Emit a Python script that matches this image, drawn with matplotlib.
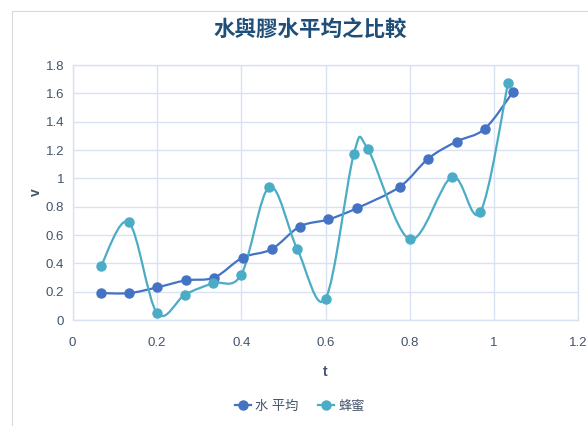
import matplotlib
matplotlib.use("Agg")
import matplotlib.pyplot as plt
from matplotlib.path import Path
from matplotlib.patches import PathPatch, Rectangle
from matplotlib.lines import Line2D
import numpy as np

plt.rcParams['font.family'] = ['Liberation Sans', 'Noto Sans CJK TC', 'DejaVu Sans']

# 水平均
water_t = [0.067, 0.134, 0.200, 0.269, 0.336, 0.403, 0.472, 0.539, 0.607,
           0.675, 0.776, 0.844, 0.911, 0.978, 1.045]
water_v = [0.19, 0.19, 0.23, 0.28, 0.30, 0.44, 0.50, 0.66, 0.71,
           0.79, 0.94, 1.14, 1.26, 1.35, 1.61]

# 蜂蜜
honey_t = [0.067, 0.133, 0.200, 0.267, 0.333, 0.400, 0.467, 0.533, 0.600,
           0.667, 0.700, 0.800, 0.900, 0.967, 1.033]
honey_v = [0.38, 0.69, 0.05, 0.18, 0.26, 0.32, 0.94, 0.50, 0.15,
           1.17, 1.21, 0.57, 1.01, 0.76, 1.67]

x_ticks = [0, 0.2, 0.4, 0.6, 0.8, 1, 1.2]
y_ticks = [0, 0.2, 0.4, 0.6, 0.8, 1, 1.2, 1.4, 1.6, 1.8]
x_labels = ['0', '0.2', '0.4', '0.6', '0.8', '1', '1.2']
y_labels = ['0', '0.2', '0.4', '0.6', '0.8', '1', '1.2', '1.4', '1.6', '1.8']

BLUE = '#4472C4'
TEAL = '#4BACC6'
GRID = '#D9E2F3'
TXT = '#44546A'


def smooth_path(xs, ys):
    # Excel-style smoothed line: Catmull-Rom segments as cubic Bezier
    pts = np.column_stack([xs, ys])
    n = len(pts)
    verts = [pts[0]]
    codes = [Path.MOVETO]
    for i in range(n - 1):
        p0 = pts[max(i - 1, 0)]
        p1 = pts[i]
        p2 = pts[i + 1]
        p3 = pts[min(i + 2, n - 1)]
        c1 = p1 + (p2 - p0) / 6
        c2 = p2 - (p3 - p1) / 6
        verts += [c1, c2, p2]
        codes += [Path.CURVE4] * 3
    return Path(verts, codes)


fig = plt.figure(figsize=(5.88, 4.26), dpi=100)
fig.patches.append(Rectangle((12 / 588, -0.1), 1.2, 1.1 - 11 / 426,
                             transform=fig.transFigure, fill=False,
                             edgecolor='#D9D9D9', linewidth=0.8))

ax = fig.add_axes([0.1236, 0.2488, 0.86, 0.5986])

for xs, ys, col in [(water_t, water_v, BLUE), (honey_t, honey_v, TEAL)]:
    ax.add_patch(PathPatch(smooth_path(xs, ys), facecolor='none',
                           edgecolor=col, linewidth=1.6, zorder=3))
    ax.plot(xs, ys, linestyle='none', marker='o', markersize=6.5,
            color=col, zorder=4)

ax.set_xlim(0, 1.2)
ax.set_ylim(0, 1.8)
ax.set_xticks(x_ticks)
ax.set_xticklabels(x_labels)
ax.set_yticks(y_ticks)
ax.set_yticklabels(y_labels)
ax.tick_params(axis='x', length=0, labelsize=9.5, labelcolor=TXT, pad=12)
ax.tick_params(axis='y', length=0, labelsize=9.5, labelcolor=TXT, pad=6)
ax.grid(True, color=GRID, linewidth=1)
ax.set_axisbelow(True)
for s in ax.spines.values():
    s.set_color(GRID)
    s.set_linewidth(1)

ax.set_xlabel('t', fontsize=10, fontweight='bold', color=TXT, labelpad=12)
ax.set_ylabel('v', fontsize=10, fontweight='bold', color=TXT, labelpad=2,
              rotation=90)

fig.text(0.527, 0.93, '水與膠水平均之比較', ha='center', va='center',
         fontsize=15.5, fontweight='bold', color='#1F4E79',
         family=['Noto Sans CJK TC', 'DejaVu Sans'])

handles = [Line2D([], [], color=BLUE, marker='o', markersize=6.5, linewidth=1.6),
           Line2D([], [], color=TEAL, marker='o', markersize=6.5, linewidth=1.6)]
fig.legend(handles, ['水 平均', '蜂蜜'], loc='center', bbox_to_anchor=(0.51, 0.045),
           ncol=2, frameon=False, fontsize=9.5, handlelength=1.2,
           handletextpad=0.3, columnspacing=1.5, labelcolor=TXT)

fig.savefig('out.png', dpi=100)
